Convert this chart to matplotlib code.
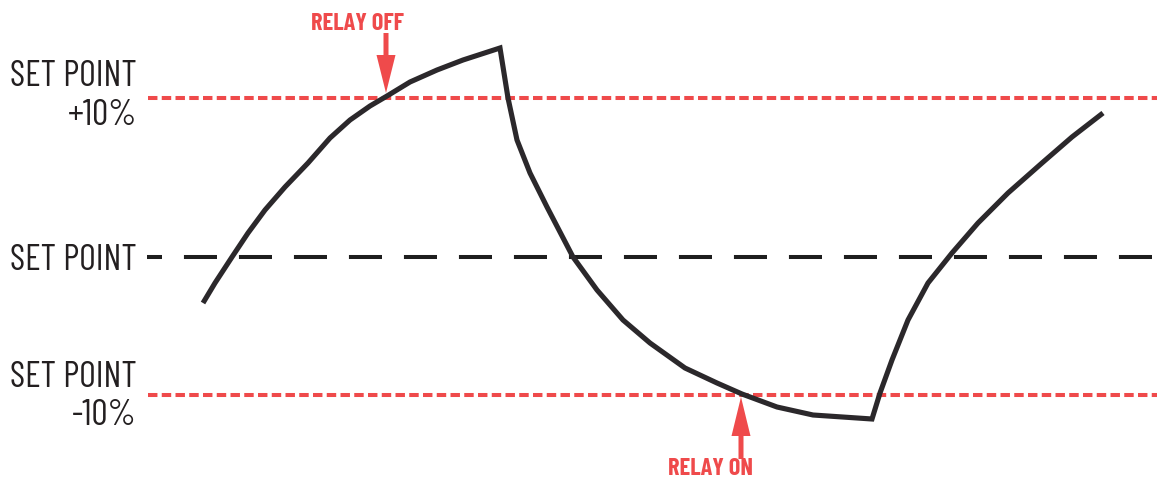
import matplotlib
matplotlib.use("Agg")
import matplotlib.pyplot as plt
from matplotlib import font_manager

plt.rcParams['lines.scale_dashes'] = False

# condensed face if there is one, otherwise a smaller plain one
installed = {f.name for f in font_manager.fontManager.ttflist}
if 'Barlow Condensed' in installed:
    face, big, small = ['Barlow Condensed', 'DejaVu Sans'], 26, 17.5
else:
    face, big, small = ['Liberation Sans', 'DejaVu Sans'], 17, 12
plt.rcParams['font.family'] = face

# process value curve (picture units, y grows downwards)
curve_x = [203, 215, 232, 248, 265, 285, 308, 330, 350, 370, 387, 410, 437, 463, 500,
           508, 517, 530, 547, 573, 597, 623, 650, 685, 717, 742, 777, 813, 872,
           880, 892, 908, 928, 952, 978, 1008, 1042, 1072, 1103]
curve_y = [303, 283, 257, 233, 210, 187, 163, 138, 120, 106, 96, 82, 70, 60, 48,
           98, 140, 173, 207, 257, 290, 320, 343, 368, 383, 394, 407, 415, 419,
           393, 360, 320, 283, 253, 223, 193, 163, 137, 113]

# reference levels
level_y = [98, 257, 395]

# relay switch points
relay_labels = ['RELAY OFF', 'RELAY ON']
relay_x = [386, 741]

red = '#ef4a4b'
ink = '#2b282b'
txt = '#231f20'

fig = plt.figure(figsize=(11.57, 4.78), dpi=100)
ax = fig.add_axes([0, 0, 1, 1])
ax.set_xlim(0, 1157)
ax.set_ylim(478, 0)
ax.axis('off')

# limit lines and set point line
ax.plot([148, 1157], [level_y[0]] * 2, color=red, lw=2.9, linestyle=(0, (6.8, 3.1)))
ax.plot([148, 1157], [level_y[2]] * 2, color=red, lw=2.9, linestyle=(0, (6.8, 3.1)))
ax.plot([147, 1157], [level_y[1]] * 2, color='#1e1e1e', lw=2.9,
        linestyle=(13, (23.8, 15.8)))

ax.plot(curve_x, curve_y, color=ink, lw=3.7, solid_joinstyle='miter',
        solid_capstyle='butt', zorder=3)

# labels on the left
ax.text(137, 86, 'SET POINT', ha='right', va='baseline', fontsize=big, color=txt)
ax.text(137, 125, '+10%', ha='right', va='baseline', fontsize=big, color=txt)
ax.text(137, 270, 'SET POINT', ha='right', va='baseline', fontsize=big, color=txt)
ax.text(137, 387, 'SET POINT', ha='right', va='baseline', fontsize=big, color=txt)
ax.text(137, 425, '-10%', ha='right', va='baseline', fontsize=big, color=txt)

# relay arrows
ax.arrow(relay_x[0], 33, 0, level_y[0] - 5 - 33, width=5, head_width=19,
         head_length=38, length_includes_head=True, color=red, lw=0, zorder=4)
ax.text(357, 30, relay_labels[0], ha='center', va='baseline', fontsize=small,
        fontweight='bold', color=red)
ax.arrow(relay_x[1], 459, 0, level_y[2] + 2 - 459, width=5, head_width=19,
         head_length=39, length_includes_head=True, color=red, lw=0, zorder=4)
ax.text(711, 475, relay_labels[1], ha='center', va='baseline', fontsize=small,
        fontweight='bold', color=red)

fig.savefig('out.png', dpi=100)
